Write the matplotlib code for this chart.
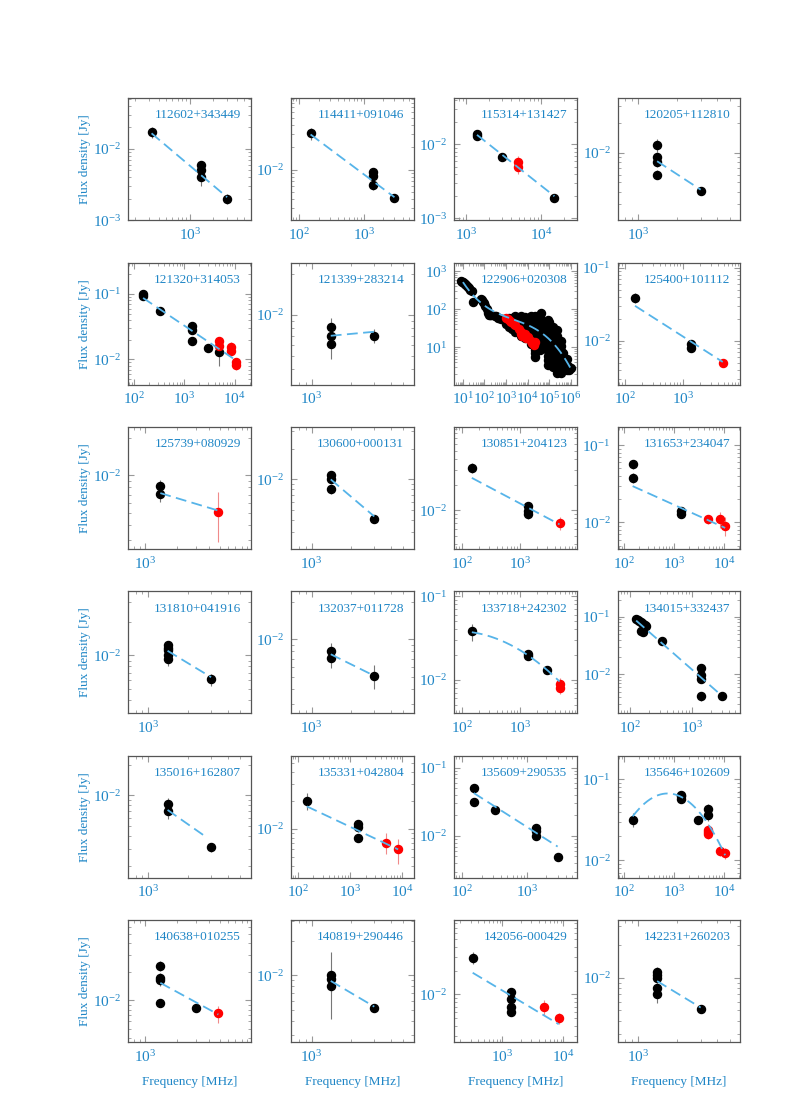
import numpy as np
import matplotlib.pyplot as plt
from matplotlib.ticker import LogLocator, NullFormatter

plt.rcParams['font.family'] = ['Liberation Serif', 'DejaVu Serif']
plt.rcParams['mathtext.fontset'] = 'stix'

BLUE = '#1f86c6'
FIT = '#56b4e9'

names = ['112602+343449', '114411+091046', '115314+131427', '120205+112810',
         '121320+314053', '121339+283214', '122906+020308', '125400+101112',
         '125739+080929', '130600+000131', '130851+204123', '131653+234047',
         '131810+041916', '132037+011728', '133718+242302', '134015+332437',
         '135016+162807', '135331+042804', '135609+290535', '135646+102609',
         '140638+010255', '140819+290446', '142056-000429', '142231+260203']

# 3C 273 (122906+020308): many measurements, grouped by frequency (MHz) -> fluxes (Jy)
c273_groups = [
    (8, [560]), (9, [530]), (10, [510]), (11, [490]), (12, [470]), (13, [450]), (14, [430]),
    (15, [410]), (17, [385]), (19, [360]), (22, [330]), (26, [300]),
    (30, [160]), (70, [190]), (80, [175]), (90, [160]), (100, [145]), (110, [120]),
    (130, [100]), (140, [80]), (160, [72]), (178, [70]), (200, [72]), (300, [68]),
    (350, [66]), (408, [60]), (500, [58]), (600, [57]), (750, [55]), (900, [52]),
    (1000, [45, 55, 40]), (1400, [35, 45, 60, 42]), (2000, [30, 40, 50, 60]),
    (2700, [25, 35, 45, 55, 65]), (3500, [30, 40, 50]),
    (4800, [20, 25, 30, 35, 40, 45, 50, 55, 60, 68]),
    (8000, [18, 22, 27, 33, 40, 48, 55, 62]), (10700, [20, 30, 45, 55]),
    (14500, [12, 15, 19, 24, 30, 37, 45, 55, 65]),
    (22000, [5.7, 7, 8.5, 10, 13, 17, 22, 28, 35, 44, 55, 65]),
    (31000, [10, 15, 25, 40]),
    (37000, [8.5, 9.5, 12, 15, 19, 24, 30, 38, 48, 60, 70]),
    (43000, [15, 25, 40, 80]), (70000, [15, 25, 45]),
    (90000, [3.5, 4.5, 6, 8, 10.5, 14, 18, 24, 32, 42, 52]),
    (100000, [4, 6, 9, 13, 20, 30, 45]),
    (150000, [3, 4, 5.5, 7.5, 10, 14, 19, 26, 35]),
    (230000, [2.1, 2.6, 3.4, 4.5, 6, 8, 11, 15, 20, 28]),
    (345000, [2.1, 2.6, 3.4, 4.5, 6, 8, 11, 15]),
    (450000, [2.5, 3.5, 5, 7]), (650000, [2.5, 3.5, 5]), (850000, [2.5, 3]), (1000000, [2.8]),
]
c273_nu = [g[0] for g in c273_groups for _ in g[1]]
c273_s = [s for g in c273_groups for s in g[1]]
c273_red_nu = [1000, 1200, 1500, 1800, 2300, 2700, 4200, 4800, 5000, 5500, 8000, 8500,
               10000, 15000, 17000, 20000, 22000]
c273_red_s = [60, 55, 50, 45, 42, 38, 30, 26, 22, 20, 22, 18, 19, 15, 13, 11.5, 14]

blk_nu = [[325, 1400, 1400, 1400, 3000],
          [150, 1400, 1400, 1400, 3000],
          [1400, 1400, 3000, 15000],
          [1400, 1400, 1400, 1400, 3000],
          [150, 150, 325, 1400, 1400, 1400, 3000, 4850],
          [1400, 1400, 1400, 3000],
          c273_nu,
          [150, 1400, 1400],
          [1400, 1400],
          [1400, 1400, 1400, 3000],
          [150, 1400, 1400, 1400],
          [150, 150, 1400, 1400],
          [1400, 1400, 1400, 1400, 1400, 3000],
          [1400, 1400, 3000],
          [150, 1400, 1400, 3000],
          [125, 132, 140, 148, 155, 163, 172, 180, 150, 160, 325, 1400, 1400, 1400, 1400, 3000],
          [1400, 1400, 3000],
          [150, 1400, 1400, 1400],
          [150, 150, 325, 1400, 1400, 1400, 3000],
          [150, 1400, 1400, 1400, 3000, 4850, 4850],
          [1400, 1400, 1400, 1400, 3000],
          [1400, 1400, 1400, 3000],
          [325, 1400, 1400, 1400, 1400],
          [1400, 1400, 1400, 1400, 1400, 3000]]
blk_s = [[0.017, 0.006, 0.005, 0.004, 0.002],
         [0.031, 0.0092, 0.0083, 0.0061, 0.0041],
         [0.014, 0.0129, 0.0068, 0.0019],
         [0.012, 0.0091, 0.0081, 0.0060, 0.0041],
         [0.10, 0.093, 0.055, 0.033, 0.028, 0.019, 0.015, 0.013],
         [0.0081, 0.0070, 0.0061, 0.0070],
         c273_s,
         [0.039, 0.0089, 0.0080],
         [0.0082, 0.0071],
         [0.011, 0.0102, 0.0081, 0.0041],
         [0.0317, 0.0111, 0.0099, 0.0089],
         [0.057, 0.038, 0.0139, 0.013],
         [0.0124, 0.0117, 0.0111, 0.0101, 0.0092, 0.0061],
         [0.0081, 0.0071, 0.0051],
         [0.038, 0.0202, 0.019, 0.013],
         [0.092, 0.088, 0.085, 0.081, 0.078, 0.075, 0.072, 0.068, 0.057, 0.055, 0.038,
          0.0127, 0.0096, 0.0084, 0.0042, 0.0042],
         [0.0082, 0.0071, 0.0031],
         [0.020, 0.0111, 0.0103, 0.0080],
         [0.050, 0.032, 0.024, 0.0133, 0.0119, 0.0100, 0.0049],
         [0.032, 0.065, 0.062, 0.057, 0.032, 0.0437, 0.036],
         [0.0233, 0.0173, 0.0163, 0.0095, 0.0084],
         [0.0101, 0.0093, 0.0081, 0.0052],
         [0.029, 0.0108, 0.0088, 0.0070, 0.0060],
         [0.0113, 0.0105, 0.0100, 0.0080, 0.0070, 0.0051]]
blk_e = [[0.003, 0.0008, 0.0008, 0.001, 0.0003],
         [0.006, 0.001, 0.001, 0.0009, 0.0004],
         [0.0015, 0.0015, 0.0005, 0.0002],
         [0.0018, 0.001, 0.001, 0.0006, 0.0003],
         [0.008, 0.008, 0.005, 0.003, 0.003, 0.002, 0.001, 0.005],
         [0.0013, 0.0008, 0.0014, 0.0008],
         [0] * len(c273_s),
         [0.006, 0.001, 0.0008],
         [0.001, 0.001],
         [0.001, 0.001, 0.0009, 0.0003],
         [0.004, 0.001, 0.001, 0.001],
         [0.008, 0.006, 0.0015, 0.0015],
         [0.001, 0.001, 0.001, 0.001, 0.0012, 0.0008],
         [0.0012, 0.0012, 0.0011],
         [0.009, 0.002, 0.002, 0.0006],
         [0.002] * 10 + [0.003, 0.0012, 0.001, 0.001, 0.0008, 0.0004],
         [0.0012, 0.0012, 0.0003],
         [0.004, 0.001, 0.001, 0.0008],
         [0.006, 0.004, 0.002, 0.0012, 0.0012, 0.001, 0.0004],
         [0.006, 0.004, 0.004, 0.005, 0.002, 0.006, 0.005],
         [0.003, 0.002, 0.002, 0.0008, 0.0005],
         [0.006, 0.001, 0.001, 0.0004],
         [0.005, 0.0012, 0.001, 0.0008, 0.0007],
         [0.0012, 0.001, 0.001, 0.001, 0.0012, 0.0003]]

red_nu = [[], [], [4850, 4850], [], [4850, 4850, 8400, 8400, 10500, 10500], [],
          c273_red_nu, [4850], [4850], [], [4850], [4850, 8400, 10500],
          [], [], [4850, 4850], [], [], [4850, 8400], [],
          [4850, 4850, 4850, 8400, 10500], [4850], [], [4850, 8400], []]
red_s = [[], [], [0.0058, 0.005], [], [0.019, 0.016, 0.0153, 0.0134, 0.009, 0.0083], [],
         c273_red_s, [0.005], [0.0051], [], [0.0070], [0.011, 0.011, 0.0091],
         [], [], [0.0089, 0.0079], [], [], [0.0071, 0.0060], [],
         [0.0238, 0.0226, 0.0212, 0.0132, 0.0123], [0.0073], [], [0.0070, 0.0050], []]
red_e = [[], [], [0.0013, 0.001], [], [0.003, 0.003, 0.003, 0.002, 0.0015, 0.0015], [],
         [0] * len(c273_red_s), [0.0006], [0.0022], [], [0.0012], [0.0015, 0.0025, 0.0025],
         [], [], [0.0015, 0.0012], [], [], [0.0018, 0.0018], [],
         [0.004, 0.003, 0.003, 0.002, 0.002], [0.0015], [], [0.0015, 0.0008], []]

# model fits: log10 S = log10 s0 + sum coef[k] * t**(k+1), t = log10(nu / lo)
fit_lo = [325, 150, 1400, 1400, 150, 1400, 10, 150, 1400, 1400, 150, 150,
          1400, 1400, 150, 125, 1400, 150, 150, 150, 1400, 1400, 325, 1400]
fit_hi = [3000, 3000, 15000, 3000, 10500, 3000, 1e6, 4850, 4850, 3000, 4850, 10500,
          3000, 3000, 4850, 3000, 2800, 8400, 3000, 10500, 4850, 3000, 8400, 3000]
fit_s0 = [0.0165, 0.030, 0.0135, 0.0082, 0.087, 0.0070, 520, 0.030, 0.0072, 0.0100, 0.024, 0.0295,
          0.011, 0.0076, 0.037, 0.086, 0.0072, 0.0173, 0.0427, 0.0349, 0.0153, 0.0089, 0.0188, 0.0093]
fit_coef = [[-0.928], [-0.656], [-0.805], [-0.878], [-0.514], [0.09], [-0.856, 0.2795, -0.0398],
            [-0.51], [-0.262], [-1.108], [-0.363], [-0.293],
            [-0.711], [-0.523], [-0.100, -0.193], [-0.945], [-0.909], [-0.263], [-0.604],
            [0.811, -0.58], [-0.617], [-0.68], [-0.461], [-0.738]]

fig, axes = plt.subplots(6, 4, figsize=(7.9, 11.18), dpi=100)
fig.subplots_adjust(left=0.162, right=0.937, top=0.912, bottom=0.068, wspace=0.33, hspace=0.35)

for i, ax in enumerate(axes.flat):
    ax.set_xscale('log')
    ax.set_yscale('log')
    ax.errorbar(blk_nu[i], blk_s[i], yerr=blk_e[i], fmt='o', color='black', ms=5.8,
                ecolor='#777777', elinewidth=0.8, capsize=0, zorder=3)
    if red_nu[i]:
        ax.errorbar(red_nu[i], red_s[i], yerr=red_e[i], fmt='o', color='red', ms=5.8,
                    ecolor='#f08a8a', elinewidth=0.8, capsize=0, zorder=3)
    nu = np.logspace(np.log10(fit_lo[i]), np.log10(fit_hi[i]), 200)
    t = np.log10(nu / fit_lo[i])
    logs = np.log10(fit_s0[i]) + sum(c * t ** (k + 1) for k, c in enumerate(fit_coef[i]))
    ax.plot(nu, 10 ** logs, color=FIT, lw=1.3, ls=(0, (6, 3)), zorder=4)

    all_nu = list(blk_nu[i]) + list(red_nu[i])
    all_s = list(blk_s[i]) + list(red_s[i])
    ax.set_xlim(min(all_nu) / 2, max(all_nu) * 2)
    ax.set_ylim(min(all_s) / 2, max(all_s) * 3)

    ax.text(0.92, 0.86, names[i], transform=ax.transAxes, ha='right', va='center',
            color=BLUE, fontsize=9.5)
    for axis in (ax.xaxis, ax.yaxis):
        axis.set_major_locator(LogLocator(base=10, numticks=12))
        axis.set_minor_locator(LogLocator(base=10, subs=np.arange(2, 10), numticks=12))
        axis.set_minor_formatter(NullFormatter())
    ax.tick_params(which='both', direction='in', top=True, right=True, color='#999999',
                   labelcolor=BLUE, labelsize=11, pad=5)
    ax.tick_params(which='major', length=4, width=0.8)
    ax.tick_params(which='minor', length=2.5, width=0.6)
    for sp in ax.spines.values():
        sp.set_color('#555555')
        sp.set_linewidth(0.9)
    if i % 4 == 0:
        ax.set_ylabel('Flux density [Jy]', color=BLUE, fontsize=9.5)
        ax.yaxis.set_label_coords(-0.3, 0.5)
    if i >= 20:
        ax.set_xlabel('Frequency [MHz]', color=BLUE, fontsize=9.5)
        ax.xaxis.set_label_coords(0.5, -0.28)

fig.savefig('out.png', dpi=100)
